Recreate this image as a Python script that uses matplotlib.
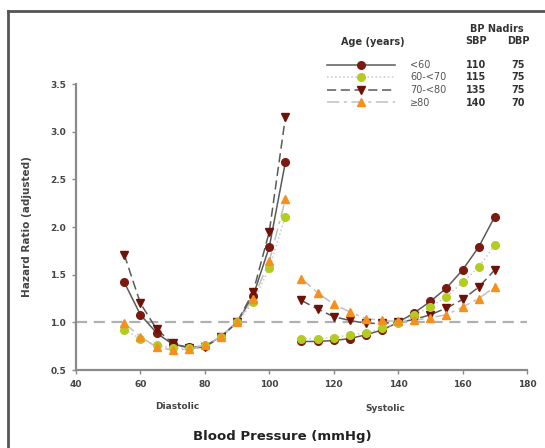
import matplotlib.pyplot as plt
from matplotlib.lines import Line2D

# diastolic and systolic blood pressure levels (mmHg)
dbp = [55, 60, 65, 70, 75, 80, 85, 90, 95, 100, 105]
sbp = [110, 115, 120, 125, 130, 135, 140, 145, 150, 155, 160, 165, 170]

ages = ['<60', '60-<70', '70-<80', '\u226580']
sbp_nadir = [110, 115, 135, 140]
dbp_nadir = [75, 75, 75, 70]

# adjusted hazard ratios by age group
hr_dbp = {
    '<60':    [1.42, 1.08, 0.89, 0.77, 0.74, 0.75, 0.85, 1.00, 1.28, 1.79, 2.68],
    '60-<70': [0.92, 0.83, 0.76, 0.73, 0.73, 0.76, 0.85, 1.00, 1.21, 1.57, 2.11],
    '70-<80': [1.71, 1.20, 0.93, 0.78, 0.73, 0.74, 0.85, 1.00, 1.32, 1.95, 3.15],
    '\u226580': [0.99, 0.85, 0.74, 0.71, 0.72, 0.76, 0.85, 1.00, 1.25, 1.64, 2.29],
}
hr_sbp = {
    '<60':    [0.80, 0.80, 0.81, 0.83, 0.87, 0.92, 1.00, 1.10, 1.22, 1.36, 1.55, 1.79, 2.11],
    '60-<70': [0.83, 0.83, 0.84, 0.87, 0.89, 0.94, 0.99, 1.08, 1.16, 1.27, 1.42, 1.58, 1.81],
    '70-<80': [1.23, 1.14, 1.06, 1.02, 0.99, 0.99, 1.00, 1.03, 1.08, 1.15, 1.24, 1.37, 1.55],
    '\u226580': [1.46, 1.31, 1.19, 1.11, 1.04, 1.02, 1.01, 1.02, 1.05, 1.08, 1.16, 1.25, 1.37],
}

mcolors = ['#7a1a10', '#b3cc1f', '#6e1208', '#f5901e']
lcolors = ['#5a5a5a', '#c8c8c8', '#5a5a5a', '#c0c0c0']
lstyles = ['-', ':', (0, (6, 3)), (0, (8, 3, 2, 3))]
markers = ['o', 'o', 'v', '^']

fig = plt.figure(figsize=(5.45, 4.48), dpi=100)
ax = fig.add_axes([0.1394, 0.174, 0.8276, 0.6385])

ax.axhline(1.0, color='#b0b0b0', lw=1.6, ls=(0, (5, 3)), zorder=1)

for i, a in enumerate(ages):
    for xs, ys in ((dbp, hr_dbp[a]), (sbp, hr_sbp[a])):
        ax.plot(xs, ys, color=lcolors[i], ls=lstyles[i], lw=1.1, zorder=2)
        ax.plot(xs, ys, ls='none', marker=markers[i], ms=5.5,
                color=mcolors[i], mec=mcolors[i], zorder=3 + (i % 2))

ax.set_xlim(40, 180)
ax.set_ylim(0.5, 3.5)
ax.set_xticks(range(40, 181, 20))
ax.set_yticks([0.5, 1.0, 1.5, 2.0, 2.5, 3.0, 3.5])
ax.set_yticklabels(['%.1f' % v for v in ax.get_yticks()])
for s in ['top', 'right']:
    ax.spines[s].set_visible(False)
for s in ['left', 'bottom']:
    ax.spines[s].set_color('#8a8a8a')
    ax.spines[s].set_linewidth(1.6)
ax.tick_params(colors='#8a8a8a', length=3, width=1, labelsize=6.5,
               labelcolor='#444444', pad=4)
for t in ax.get_xticklabels() + ax.get_yticklabels():
    t.set_fontweight('bold')

ax.set_ylabel('Hazard Ratio (adjusted)', fontsize=7.5, fontweight='bold',
              color='#444444', labelpad=13)
fig.text(177 / 545, 1 - 406 / 448, 'Diastolic', ha='center', va='center',
         fontsize=6.5, fontweight='bold', color='#444444')
fig.text(385 / 545, 1 - 408 / 448, 'Systolic', ha='center', va='center',
         fontsize=6.5, fontweight='bold', color='#444444')
fig.text(282 / 545, 1 - 436 / 448, 'Blood Pressure (mmHg)', ha='center',
         va='center', fontsize=9.5, fontweight='bold', color='#222222')

# legend block with nadir table
fig.text(373 / 545, 1 - 42 / 448, 'Age (years)', ha='center', va='center',
         fontsize=7, fontweight='bold', color='#333333')
fig.text(497 / 545, 1 - 29 / 448, 'BP Nadirs', ha='center', va='center',
         fontsize=7, fontweight='bold', color='#333333')
fig.text(476 / 545, 1 - 41 / 448, 'SBP', ha='center', va='center',
         fontsize=7, fontweight='bold', color='#333333')
fig.text(518 / 545, 1 - 41 / 448, 'DBP', ha='center', va='center',
         fontsize=7, fontweight='bold', color='#333333')
for i, a in enumerate(ages):
    yy = 1 - (65 + 12.5 * i) / 448
    fig.add_artist(Line2D([327 / 545, 395 / 545], [yy, yy], color=lcolors[i],
                          ls=lstyles[i], lw=1.1))
    fig.add_artist(Line2D([361 / 545], [yy], marker=markers[i], ms=5.5,
                          color=mcolors[i], ls='none'))
    fig.text(410 / 545, yy, a, va='center', fontsize=7, color='#555555')
    fig.text(476 / 545, yy, str(sbp_nadir[i]), ha='center', va='center',
             fontsize=7, fontweight='bold', color='#333333')
    fig.text(518 / 545, yy, str(dbp_nadir[i]), ha='center', va='center',
             fontsize=7, fontweight='bold', color='#333333')

# frame around the panel
fig.add_artist(Line2D([8 / 545, 1.0], [1 - 11 / 448, 1 - 11 / 448],
                      color='#555555', lw=2.0))
fig.add_artist(Line2D([8 / 545, 8 / 545], [0.0, 1 - 11 / 448],
                      color='#555555', lw=2.0))

fig.savefig('out.png', dpi=100)
